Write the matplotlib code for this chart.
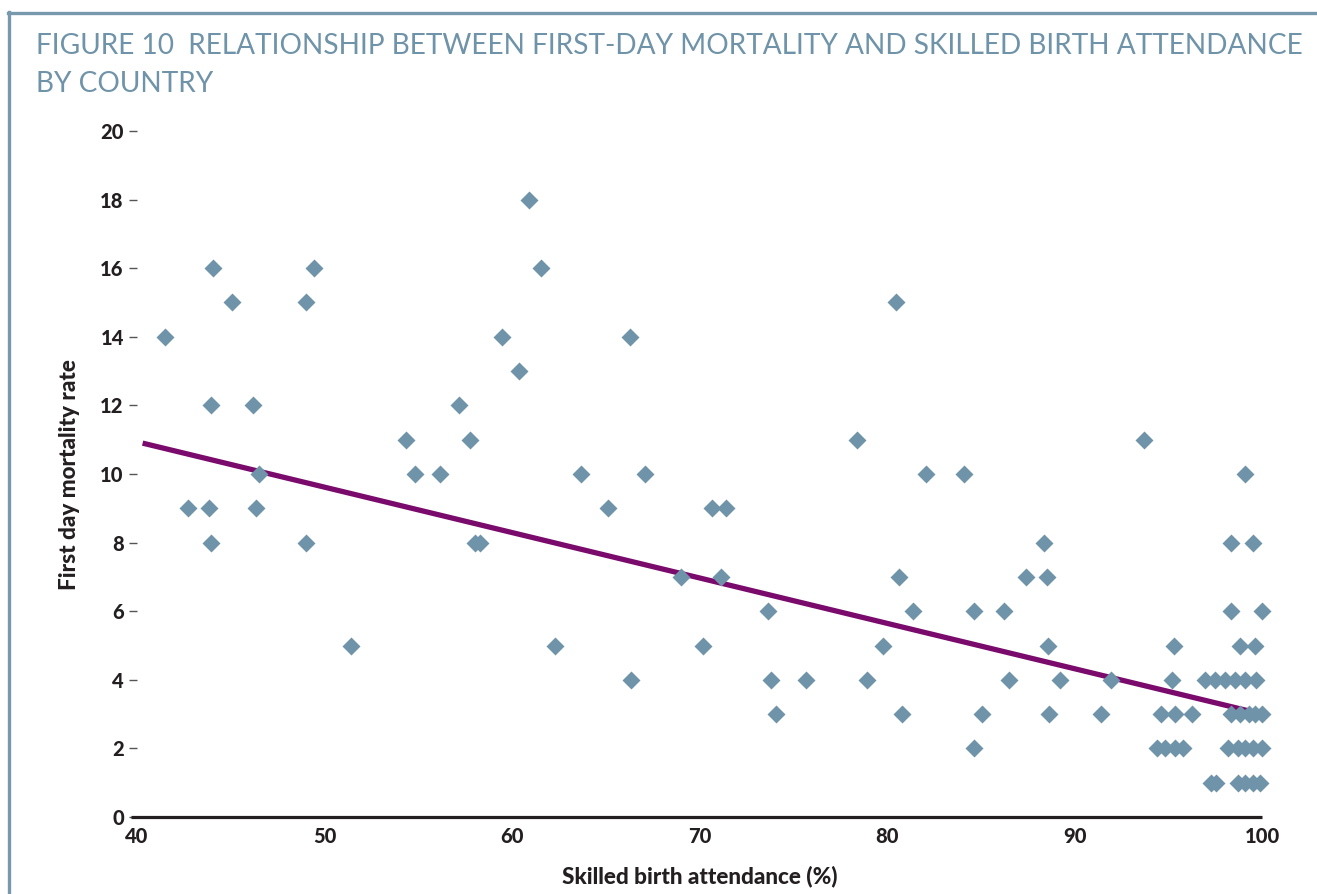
import matplotlib
matplotlib.use("Agg")
import matplotlib.pyplot as plt
from matplotlib.lines import Line2D

# ---- data ----
attendance = [
    41.5, 42.7, 44.05, 43.95, 43.85, 43.95, 45.07, 46.2, 46.5, 46.35,
    49.0, 49.45, 49.0, 51.4, 54.35, 54.8, 56.16, 57.17, 57.74, 58.0,
    58.3, 59.47, 60.37, 60.89, 61.53, 62.28, 63.66, 65.1, 66.3, 66.36,
    67.1, 69.0, 70.17, 70.65, 71.13, 71.41, 73.67, 73.8, 74.06, 75.68,
    78.42, 78.95, 79.8, 80.46, 80.66, 80.82, 81.4, 82.06, 84.12, 84.64,
    84.64, 85.05, 86.26, 86.52, 87.43, 88.39, 88.53, 88.6, 88.63, 89.23,
    91.4, 91.93, 93.7,
    99.1,
    98.35, 99.5,
    98.35, 100.0,
    95.33, 98.8, 99.6,
    95.22, 96.96, 97.49, 98.03, 98.56, 99.09, 99.68,
    94.61, 95.36, 96.25, 98.35, 98.85, 99.3, 99.65, 100.0,
    94.38, 94.83, 95.36, 95.8, 98.2, 98.7, 99.1, 99.5, 100.0,
    97.3, 97.55, 98.7, 99.1, 99.5, 99.9,
]
mortality = [
    14, 9, 16, 12, 9, 8, 15, 12, 10, 9,
    15, 16, 8, 5, 11, 10, 10, 12, 11, 8,
    8, 14, 13, 18, 16, 5, 10, 9, 14, 4,
    10, 7, 5, 9, 7, 9, 6, 4, 3, 4,
    11, 4, 5, 15, 7, 3, 6, 10, 10, 6,
    2, 3, 6, 4, 7, 8, 7, 5, 3, 4,
    3, 4, 11,
    10,
    8, 8,
    6, 6,
    5, 5, 5,
    4, 4, 4, 4, 4, 4, 4,
    3, 3, 3, 3, 3, 3, 3, 3,
    2, 2, 2, 2, 2, 2, 2, 2, 2,
    1, 1, 1, 1, 1, 1,
]
trend_x = [40.3, 100.0]
trend_y = [10.9, 3.0]

y_ticks = [0, 2, 4, 6, 8, 10, 12, 14, 16, 18, 20]
x_ticks = [40, 50, 60, 70, 80, 90, 100]

title_line1 = "FIGURE 10  RELATIONSHIP BETWEEN FIRST-DAY MORTALITY AND SKILLED BIRTH ATTENDANCE"
title_line2 = "BY COUNTRY"
x_label = "Skilled birth attendance (%)"
y_label = "First day mortality rate"

# ---- style ----
W, H = 1317, 894
DPI = 100
steel = "#6f93a8"
frame_col = "#7898ae"
purple = "#7a0a6c"
dark = "#231f20"
font = "Lato"

fig = plt.figure(figsize=(W / DPI, H / DPI), dpi=DPI)

def fx(px):
    return px / W

def fy(py):
    return 1 - py / H

left, right = 137, 1262
top, bottom = 131, 817
ax = fig.add_axes([fx(left), fy(bottom), fx(right - left), fy(top) - fy(bottom)])
ax.set_xlim(40, 100)
ax.set_ylim(0, 20)
for s in ax.spines.values():
    s.set_visible(False)

ax.plot(trend_x, trend_y, color=purple, lw=3.8, solid_capstyle="butt", zorder=2)
ax.plot(attendance, mortality, linestyle="none", marker="D", ms=9.6,
        mfc=steel, mec="none", zorder=3, clip_on=False)

# bottom axis line (extends slightly left of x=40)
ax.plot([-6 / (right - left), 1], [0, 0], transform=ax.transAxes,
        color=dark, lw=2.3, clip_on=False, solid_capstyle="butt", zorder=4)

ax.set_yticks(y_ticks)
ax.set_yticklabels([str(v) for v in y_ticks])
ax.set_xticks(x_ticks)
ax.set_xticklabels([str(v) for v in x_ticks])
ax.tick_params(axis="y", direction="out", length=5.5, width=1.0, color="#555555",
               pad=4, labelsize=14.5, labelcolor=dark)
ax.tick_params(axis="x", length=0, pad=7, labelsize=14.5, labelcolor=dark)
for lab in ax.get_xticklabels() + ax.get_yticklabels():
    lab.set_fontfamily(font)
    lab.set_fontweight("black")

fig.text(fx(700), fy(876), x_label, ha="center", va="center",
         fontsize=16.2, fontweight="black", family=font, color=dark)
fig.text(fx(70), fy(475), y_label, ha="center", va="center", rotation=90,
         fontsize=16.2, fontweight="black", family=font, color=dark)

# titles
fig.text(fx(36), fy(46), title_line1, ha="left", va="center",
         fontsize=20.2, family=font, color=steel)
fig.text(fx(36), fy(84), title_line2, ha="left", va="center",
         fontsize=20.2, family=font, color=steel)

# frame lines (top and left)
fig.add_artist(Line2D([fx(8), 1.0], [fy(13), fy(13)], color=frame_col, lw=2.4,
                      transform=fig.transFigure))
fig.add_artist(Line2D([fx(9), fx(9)], [fy(12), 0.0], color=frame_col, lw=2.4,
                      transform=fig.transFigure))

fig.savefig("out.png", dpi=DPI)
